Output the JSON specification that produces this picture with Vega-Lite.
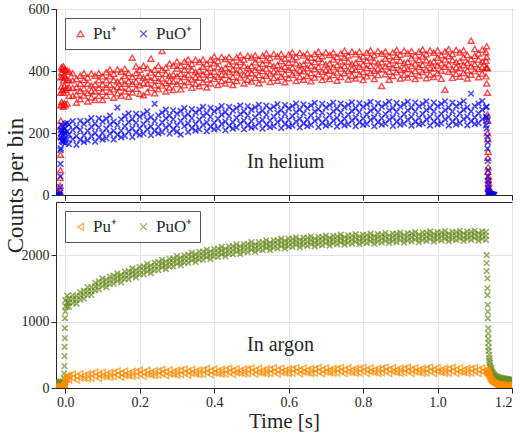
{"$schema":"https://vega.github.io/schema/vega-lite/v6.json","background":"white","padding":{"left":3,"top":1,"right":9,"bottom":0},"config":{"font":"Liberation Serif","view":{"stroke":"#262626","strokeWidth":1},"axis":{"labelFont":"Liberation Serif","labelFontSize":14,"labelColor":"#262626","titleFont":"Liberation Serif","titleFontSize":21,"titleFontWeight":"normal","titleColor":"#262626","domainColor":"#262626","tickColor":"#262626","gridColor":"#e4e4e4","tickSize":5,"labelPadding":2,"titlePadding":1},"legend":{"orient":"top-left","direction":"horizontal","offset":9,"padding":7,"strokeColor":"#555","fillColor":"white","labelFont":"Liberation Serif","labelFontSize":17,"labelColor":"#262626","symbolSize":45,"symbolStrokeWidth":1.3,"columnPadding":18,"title":null}},"datasets":{"d":[
{"t":-0.025,"a":0,"b":1,"e":0,"f":0,"h":10,"i":25,"j":45,"k":70,"l":95},
{"t":-0.022,"a":0,"b":2,"e":0,"f":1},
{"t":-0.02,"h":18,"i":5,"j":60,"k":85,"l":35},
{"t":-0.019,"a":1,"b":0,"e":0,"f":0},
{"t":-0.016,"a":0,"b":3,"e":1,"f":0},
{"t":-0.015,"h":22,"i":12,"j":75,"k":50,"l":95},
{"t":-0.014,"a":12,"b":30,"c":55,"e":8,"f":25},
{"t":-0.013,"a":80,"b":130,"c":190,"d":220,"e":60,"f":100,"g":145},
{"t":-0.012,"a":240,"b":290,"c":330,"d":380,"e":150,"f":185,"g":210},
{"t":-0.01,"a":300,"b":350,"c":395,"d":412,"e":175,"f":200,"g":225,"h":8,"i":28,"j":40,"k":65,"l":90},
{"t":-0.0075,"a":292,"b":338,"c":381,"d":408,"e":172,"f":208,"g":190},
{"t":-0.006,"h":15,"i":30,"j":55,"k":80,"l":100},
{"t":-0.005,"a":285,"b":330,"c":370,"d":415,"e":170,"f":195,"g":222},
{"t":-0.003,"h":25,"i":40,"j":90,"k":140,"l":220},
{"t":-0.0025,"a":296,"b":352,"c":386,"d":404,"e":178,"f":214,"g":202},
{"t":-0.002,"h":50,"i":80,"j":330,"k":480,"l":620},
{"t":-0.001,"h":90,"i":130,"j":750,"k":900,"l":1050},
{"t":0,"a":290,"b":340,"c":378,"d":405,"e":168,"f":198,"g":230,"h":130,"i":160,"j":1150,"k":1230,"l":1320},
{"t":0.005,"a":295,"b":345,"c":372,"d":402,"e":180,"f":205,"g":232,"h":140,"i":190,"j":1220,"k":1290,"l":1390},
{"t":0.01,"a":320,"b":347,"c":370,"d":398,"e":164,"f":195,"g":227,"h":120,"i":185,"j":1225,"k":1285,"l":1345},
{"t":0.02,"a":320,"b":345,"c":370,"d":393,"e":180,"f":210,"g":238,"h":150,"i":210,"j":1280,"k":1340,"l":1395},
{"t":0.03,"a":298,"b":324,"c":348,"d":374,"e":162,"f":190,"g":220,"h":120,"i":180,"j":1272,"k":1325,"l":1385},
{"t":0.04,"a":309,"b":336,"c":359,"d":385,"e":178,"f":210,"g":239,"h":150,"i":213,"j":1330,"k":1388,"l":1442},
{"t":0.05,"a":321,"b":344,"c":371,"d":393,"e":192,"f":229,"g":171,"h":185,"i":145,"j":1345,"k":1405,"l":1465},
{"t":0.06,"a":302,"b":329,"c":359,"d":379,"e":176,"f":207,"g":239,"h":139,"i":214,"j":1400,"k":1460,"l":1515},
{"t":0.07,"a":315,"b":336,"c":353,"d":392,"e":190,"f":220,"g":248,"h":148,"i":213,"j":1402,"k":1455,"l":1515},
{"t":0.08,"a":307,"b":334,"c":357,"d":385,"e":172,"f":200,"g":230,"h":177,"i":237,"j":1470,"k":1528,"l":1582},
{"t":0.09,"a":320,"b":345,"c":370,"d":393,"e":186,"f":218,"g":247,"h":146,"i":206,"j":1485,"k":1545,"l":1605},
{"t":0.1,"a":307,"b":333,"c":357,"d":383,"e":200,"f":237,"g":179,"h":175,"i":238,"j":1535,"k":1595,"l":1650},
{"t":0.11,"a":320,"b":347,"c":370,"d":396,"e":183,"f":214,"g":246,"h":208,"i":168,"j":1517,"k":1570,"l":1630},
{"t":0.12,"a":333,"b":356,"c":383,"d":405,"e":198,"f":228,"g":256,"h":160,"i":235,"j":1565,"k":1623,"l":1677},
{"t":0.13,"a":314,"b":341,"c":371,"d":391,"e":179,"f":207,"g":237,"h":168,"i":233,"j":1570,"k":1630,"l":1690},
{"t":0.14,"a":328,"b":349,"c":366,"d":405,"e":194,"f":226,"g":282,"h":195,"i":255,"j":1612,"k":1672,"l":1727},
{"t":0.15,"a":320,"b":347,"c":370,"d":398,"e":207,"f":244,"g":186,"h":163,"i":223,"j":1592,"k":1645,"l":1705},
{"t":0.16,"a":334,"b":359,"c":384,"d":407,"e":191,"f":222,"g":254,"h":190,"i":253,"j":1638,"k":1696,"l":1750},
{"t":0.17,"a":317,"b":343,"c":367,"d":393,"e":205,"f":235,"g":263,"h":223,"i":183,"j":1641,"k":1701,"l":1761},
{"t":0.18,"a":331,"b":358,"c":381,"d":443,"e":187,"f":215,"g":245,"h":175,"i":250,"j":1684,"k":1744,"l":1799},
{"t":0.19,"a":343,"b":366,"c":393,"d":415,"e":201,"f":233,"g":262,"h":183,"i":248,"j":1664,"k":1717,"l":1777},
{"t":0.2,"a":327,"b":354,"c":384,"d":404,"e":215,"f":252,"g":194,"h":210,"i":270,"j":1710,"k":1768,"l":1822},
{"t":0.21,"a":322,"b":361,"c":378,"d":417,"e":198,"f":229,"g":261,"h":177,"i":237,"j":1711,"k":1771,"l":1831},
{"t":0.22,"a":332,"b":359,"c":382,"d":410,"e":212,"f":242,"g":270,"h":203,"i":266,"j":1752,"k":1812,"l":1867},
{"t":0.23,"a":345,"b":370,"c":395,"d":440,"e":193,"f":221,"g":251,"h":235,"i":195,"j":1730,"k":1783,"l":1843},
{"t":0.24,"a":328,"b":354,"c":378,"d":404,"e":207,"f":239,"g":294,"h":186,"i":261,"j":1774,"k":1832,"l":1886},
{"t":0.25,"a":341,"b":368,"c":391,"d":417,"e":220,"f":257,"g":199,"h":193,"i":258,"j":1775,"k":1835,"l":1895},
{"t":0.26,"a":353,"b":376,"c":403,"d":465,"e":203,"f":234,"g":266,"h":219,"i":279,"j":1814,"k":1874,"l":1929},
{"t":0.27,"a":334,"b":361,"c":391,"d":411,"e":217,"f":247,"g":275,"h":186,"i":246,"j":1790,"k":1843,"l":1903},
{"t":0.28,"a":347,"b":368,"c":385,"d":424,"e":198,"f":226,"g":256,"h":212,"i":275,"j":1832,"k":1890,"l":1944},
{"t":0.29,"a":339,"b":366,"c":389,"d":417,"e":212,"f":244,"g":273,"h":244,"i":204,"j":1831,"k":1891,"l":1951},
{"t":0.3,"a":358,"b":383,"c":408,"d":431,"e":225,"f":262,"g":204,"h":195,"i":270,"j":1870,"k":1930,"l":1985},
{"t":0.31,"a":341,"b":367,"c":391,"d":417,"e":195,"f":239,"g":271,"h":201,"i":266,"j":1845,"k":1898,"l":1958},
{"t":0.32,"a":354,"b":381,"c":404,"d":430,"e":222,"f":252,"g":280,"h":227,"i":287,"j":1886,"k":1944,"l":1998},
{"t":0.33,"a":365,"b":388,"c":415,"d":437,"e":203,"f":231,"g":261,"h":193,"i":253,"j":1884,"k":1944,"l":2004},
{"t":0.34,"a":346,"b":373,"c":403,"d":423,"e":216,"f":248,"g":277,"h":219,"i":282,"j":1922,"k":1982,"l":2037},
{"t":0.35,"a":359,"b":380,"c":397,"d":436,"e":229,"f":266,"g":208,"h":250,"i":210,"j":1897,"k":1950,"l":2010},
{"t":0.36,"a":351,"b":378,"c":401,"d":429,"e":212,"f":243,"g":275,"h":201,"i":276,"j":1936,"k":1994,"l":2048},
{"t":0.37,"a":364,"b":389,"c":414,"d":437,"e":226,"f":256,"g":284,"h":207,"i":272,"j":1932,"k":1992,"l":2052},
{"t":0.38,"a":347,"b":373,"c":397,"d":423,"e":206,"f":234,"g":264,"h":233,"i":293,"j":1968,"k":2028,"l":2083},
{"t":0.39,"a":360,"b":387,"c":410,"d":436,"e":220,"f":252,"g":281,"h":199,"i":259,"j":1941,"k":1994,"l":2054},
{"t":0.4,"a":375,"b":398,"c":425,"d":447,"e":233,"f":270,"g":212,"h":225,"i":288,"j":1980,"k":2038,"l":2092},
{"t":0.41,"a":355,"b":382,"c":412,"d":432,"e":215,"f":246,"g":278,"h":256,"i":216,"j":1975,"k":2035,"l":2095},
{"t":0.42,"a":368,"b":389,"c":406,"d":445,"e":229,"f":259,"g":287,"h":206,"i":281,"j":2010,"k":2070,"l":2125},
{"t":0.43,"a":360,"b":387,"c":410,"d":438,"e":209,"f":237,"g":267,"h":212,"i":277,"j":1982,"k":2035,"l":2095},
{"t":0.44,"a":372,"b":397,"c":422,"d":445,"e":223,"f":255,"g":284,"h":238,"i":298,"j":2020,"k":2078,"l":2132},
{"t":0.45,"a":355,"b":381,"c":405,"d":431,"e":235,"f":272,"g":214,"h":203,"i":263,"j":2015,"k":2075,"l":2135},
{"t":0.46,"a":368,"b":395,"c":418,"d":444,"e":218,"f":249,"g":281,"h":229,"i":292,"j":2048,"k":2108,"l":2163},
{"t":0.47,"a":379,"b":402,"c":429,"d":451,"e":231,"f":261,"g":289,"h":260,"i":220,"j":2018,"k":2071,"l":2131},
{"t":0.48,"a":360,"b":387,"c":417,"d":437,"e":212,"f":240,"g":270,"h":210,"i":285,"j":2054,"k":2112,"l":2166},
{"t":0.49,"a":372,"b":393,"c":410,"d":449,"e":225,"f":257,"g":286,"h":216,"i":281,"j":2047,"k":2107,"l":2167},
{"t":0.5,"a":366,"b":393,"c":416,"d":444,"e":238,"f":275,"g":217,"h":242,"i":302,"j":2080,"k":2140,"l":2195},
{"t":0.51,"a":378,"b":403,"c":428,"d":451,"e":220,"f":251,"g":283,"h":207,"i":267,"j":2049,"k":2102,"l":2162},
{"t":0.52,"a":361,"b":387,"c":411,"d":437,"e":233,"f":263,"g":291,"h":233,"i":296,"j":2084,"k":2142,"l":2196},
{"t":0.53,"a":373,"b":400,"c":423,"d":449,"e":214,"f":242,"g":272,"h":263,"i":223,"j":2076,"k":2136,"l":2196},
{"t":0.54,"a":385,"b":408,"c":435,"d":457,"e":227,"f":259,"g":288,"h":214,"i":289,"j":2108,"k":2168,"l":2223},
{"t":0.55,"a":365,"b":392,"c":422,"d":442,"e":240,"f":277,"g":219,"h":219,"i":284,"j":2077,"k":2130,"l":2190},
{"t":0.56,"a":378,"b":399,"c":416,"d":455,"e":222,"f":253,"g":285,"h":245,"i":305,"j":2111,"k":2169,"l":2223},
{"t":0.57,"a":369,"b":396,"c":419,"d":447,"e":235,"f":265,"g":293,"h":210,"i":270,"j":2102,"k":2162,"l":2222},
{"t":0.58,"a":382,"b":407,"c":432,"d":455,"e":216,"f":244,"g":274,"h":236,"i":299,"j":2133,"k":2193,"l":2248},
{"t":0.59,"a":364,"b":390,"c":414,"d":440,"e":229,"f":261,"g":290,"h":266,"i":226,"j":2101,"k":2154,"l":2214},
{"t":0.6,"a":377,"b":404,"c":427,"d":453,"e":242,"f":279,"g":221,"h":217,"i":292,"j":2135,"k":2193,"l":2247},
{"t":0.61,"a":388,"b":411,"c":438,"d":460,"e":224,"f":255,"g":287,"h":222,"i":287,"j":2124,"k":2184,"l":2244},
{"t":0.62,"a":368,"b":395,"c":425,"d":445,"e":237,"f":267,"g":295,"h":247,"i":307,"j":2153,"k":2213,"l":2268},
{"t":0.63,"a":381,"b":402,"c":419,"d":458,"e":218,"f":246,"g":276,"h":213,"i":273,"j":2119,"k":2172,"l":2232},
{"t":0.64,"a":372,"b":399,"c":422,"d":450,"e":231,"f":263,"g":292,"h":238,"i":301,"j":2151,"k":2209,"l":2263},
{"t":0.65,"a":384,"b":409,"c":434,"d":457,"e":243,"f":280,"g":222,"h":268,"i":228,"j":2140,"k":2200,"l":2260},
{"t":0.66,"a":367,"b":393,"c":417,"d":443,"e":226,"f":257,"g":289,"h":219,"i":294,"j":2168,"k":2228,"l":2283},
{"t":0.67,"a":379,"b":406,"c":429,"d":455,"e":239,"f":269,"g":297,"h":224,"i":289,"j":2133,"k":2186,"l":2246},
{"t":0.68,"a":390,"b":413,"c":440,"d":462,"e":219,"f":247,"g":277,"h":249,"i":309,"j":2164,"k":2222,"l":2276},
{"t":0.69,"a":371,"b":398,"c":428,"d":448,"e":233,"f":265,"g":294,"h":215,"i":275,"j":2152,"k":2212,"l":2272},
{"t":0.7,"a":383,"b":404,"c":421,"d":460,"e":245,"f":282,"g":224,"h":240,"i":303,"j":2180,"k":2240,"l":2295},
{"t":0.71,"a":374,"b":401,"c":424,"d":452,"e":227,"f":258,"g":290,"h":270,"i":230,"j":2145,"k":2198,"l":2258},
{"t":0.72,"a":387,"b":412,"c":437,"d":460,"e":240,"f":270,"g":298,"h":220,"i":295,"j":2176,"k":2234,"l":2288},
{"t":0.73,"a":369,"b":395,"c":419,"d":445,"e":221,"f":249,"g":279,"h":226,"i":291,"j":2164,"k":2224,"l":2284},
{"t":0.74,"a":381,"b":408,"c":431,"d":457,"e":234,"f":266,"g":295,"h":251,"i":311,"j":2192,"k":2252,"l":2307},
{"t":0.75,"a":393,"b":416,"c":443,"d":465,"e":246,"f":283,"g":225,"h":216,"i":276,"j":2157,"k":2210,"l":2270},
{"t":0.76,"a":373,"b":400,"c":430,"d":450,"e":228,"f":259,"g":291,"h":241,"i":304,"j":2187,"k":2245,"l":2299},
{"t":0.77,"a":385,"b":406,"c":423,"d":462,"e":241,"f":271,"g":299,"h":271,"i":231,"j":2174,"k":2234,"l":2294},
{"t":0.78,"a":376,"b":403,"c":426,"d":454,"e":222,"f":250,"g":280,"h":222,"i":297,"j":2201,"k":2261,"l":2316},
{"t":0.79,"a":389,"b":414,"c":439,"d":462,"e":235,"f":267,"g":296,"h":227,"i":292,"j":2165,"k":2218,"l":2278},
{"t":0.8,"a":371,"b":397,"c":421,"d":447,"e":247,"f":284,"g":226,"h":252,"i":312,"j":2195,"k":2253,"l":2307},
{"t":0.81,"a":383,"b":410,"c":433,"d":459,"e":229,"f":260,"g":292,"h":217,"i":277,"j":2182,"k":2242,"l":2302},
{"t":0.82,"a":394,"b":417,"c":444,"d":466,"e":242,"f":272,"g":300,"h":242,"i":305,"j":2209,"k":2269,"l":2324},
{"t":0.83,"a":374,"b":401,"c":431,"d":451,"e":222,"f":250,"g":280,"h":272,"i":232,"j":2173,"k":2226,"l":2286},
{"t":0.84,"a":387,"b":408,"c":425,"d":464,"e":235,"f":267,"g":296,"h":222,"i":297,"j":2203,"k":2261,"l":2315},
{"t":0.85,"a":352,"b":405,"c":428,"d":456,"e":248,"f":285,"g":227,"h":228,"i":293,"j":2190,"k":2250,"l":2310},
{"t":0.86,"a":390,"b":415,"c":440,"d":463,"e":230,"f":261,"g":293,"h":253,"i":313,"j":2217,"k":2277,"l":2332},
{"t":0.87,"a":372,"b":398,"c":422,"d":448,"e":243,"f":273,"g":301,"h":218,"i":278,"j":2181,"k":2234,"l":2294},
{"t":0.88,"a":384,"b":411,"c":434,"d":460,"e":223,"f":251,"g":281,"h":243,"i":306,"j":2211,"k":2269,"l":2323},
{"t":0.89,"a":396,"b":419,"c":446,"d":468,"e":236,"f":268,"g":297,"h":273,"i":233,"j":2198,"k":2258,"l":2318},
{"t":0.9,"a":376,"b":403,"c":433,"d":453,"e":248,"f":285,"g":227,"h":223,"i":298,"j":2225,"k":2285,"l":2340},
{"t":0.91,"a":388,"b":409,"c":426,"d":465,"e":230,"f":261,"g":293,"h":228,"i":293,"j":2189,"k":2242,"l":2302},
{"t":0.92,"a":379,"b":406,"c":429,"d":457,"e":243,"f":273,"g":301,"h":253,"i":313,"j":2219,"k":2277,"l":2331},
{"t":0.93,"a":391,"b":416,"c":441,"d":464,"e":224,"f":252,"g":282,"h":218,"i":278,"j":2206,"k":2266,"l":2326},
{"t":0.94,"a":374,"b":400,"c":424,"d":450,"e":237,"f":269,"g":298,"h":243,"i":306,"j":2233,"k":2293,"l":2348},
{"t":0.95,"a":386,"b":413,"c":436,"d":462,"e":249,"f":286,"g":228,"h":273,"i":233,"j":2197,"k":2250,"l":2310},
{"t":0.96,"a":397,"b":420,"c":447,"d":469,"e":231,"f":262,"g":294,"h":223,"i":298,"j":2227,"k":2285,"l":2339},
{"t":0.97,"a":377,"b":404,"c":434,"d":454,"e":244,"f":274,"g":302,"h":228,"i":293,"j":2214,"k":2274,"l":2334},
{"t":0.98,"a":389,"b":410,"c":427,"d":466,"e":224,"f":252,"g":282,"h":253,"i":313,"j":2241,"k":2301,"l":2356},
{"t":0.99,"a":381,"b":408,"c":431,"d":459,"e":237,"f":269,"g":298,"h":218,"i":278,"j":2205,"k":2258,"l":2318},
{"t":1.0,"a":393,"b":418,"c":443,"d":466,"e":249,"f":286,"g":228,"h":243,"i":306,"j":2235,"k":2293,"l":2347},
{"t":1.01,"a":375,"b":401,"c":425,"d":451,"e":231,"f":262,"g":294,"h":273,"i":233,"j":2221,"k":2281,"l":2341},
{"t":1.02,"a":340,"b":414,"c":437,"d":463,"e":244,"f":274,"g":302,"h":223,"i":298,"j":2247,"k":2307,"l":2362},
{"t":1.03,"a":398,"b":421,"c":448,"d":470,"e":224,"f":252,"g":282,"h":227,"i":292,"j":2210,"k":2263,"l":2323},
{"t":1.04,"a":378,"b":405,"c":435,"d":455,"e":237,"f":269,"g":298,"h":252,"i":312,"j":2239,"k":2297,"l":2351},
{"t":1.05,"a":391,"b":412,"c":429,"d":468,"e":249,"f":286,"g":228,"h":217,"i":277,"j":2225,"k":2285,"l":2345},
{"t":1.06,"a":382,"b":409,"c":432,"d":460,"e":232,"f":263,"g":295,"h":242,"i":305,"j":2251,"k":2311,"l":2366},
{"t":1.07,"a":394,"b":419,"c":444,"d":467,"e":245,"f":275,"g":303,"h":272,"i":232,"j":2214,"k":2267,"l":2327},
{"t":1.08,"a":376,"b":402,"c":426,"d":452,"e":225,"f":253,"g":283,"h":221,"i":296,"j":2243,"k":2301,"l":2355},
{"t":1.09,"a":388,"b":415,"c":438,"d":498,"e":238,"f":270,"g":327,"h":226,"i":291,"j":2229,"k":2289,"l":2349},
{"t":1.1,"a":399,"b":422,"c":449,"d":471,"e":250,"f":287,"g":229,"h":251,"i":311,"j":2255,"k":2315,"l":2370},
{"t":1.11,"a":380,"b":407,"c":437,"d":457,"e":232,"f":263,"g":295,"h":216,"i":276,"j":2217,"k":2270,"l":2330},
{"t":1.12,"a":392,"b":413,"c":430,"d":469,"e":245,"f":275,"g":303,"h":241,"i":304,"j":2245,"k":2303,"l":2357},
{"t":1.13,"a":383,"b":410,"c":433,"d":461,"e":225,"f":253,"g":283,"h":271,"i":231,"j":2230,"k":2290,"l":2350},
{"t":1.132,"a":445,"b":410,"c":360,"d":480,"e":285,"f":250,"g":215,"h":235,"i":280,"j":2000,"k":1880,"l":1760},
{"t":1.134,"a":330,"b":260,"c":200,"d":410,"e":240,"f":190,"g":150,"h":225,"i":260,"j":1650,"k":1500,"l":1400},
{"t":1.135,"a":180,"b":120,"c":75,"d":240,"e":170,"f":110,"g":60,"h":210,"i":235,"j":1250,"k":1150,"l":1050},
{"t":1.136,"a":90,"b":50,"c":25,"d":140,"e":80,"f":45,"g":20,"h":195,"i":220,"j":900,"k":820,"l":740},
{"t":1.137,"a":40,"b":20,"c":8,"d":60,"e":35,"f":15,"g":5,"h":180,"i":205,"j":680,"k":610,"l":560},
{"t":1.139,"a":12,"b":5,"c":2,"d":20,"e":10,"f":4,"g":1,"h":160,"i":180,"j":500,"k":450,"l":410},
{"t":1.141,"a":4,"b":1,"c":0,"d":8,"e":5,"f":2,"g":0,"h":130,"i":150,"j":380,"k":340,"l":310},
{"t":1.144,"a":2,"b":0,"c":0,"d":3,"e":2,"f":0,"g":0,"h":100,"i":120,"j":300,"k":270,"l":245},
{"t":1.147,"a":1,"b":0,"e":1,"f":0,"h":80,"i":95,"j":250,"k":225,"l":205},
{"t":1.15,"a":0,"b":1,"e":0,"f":1,"h":65,"i":80,"j":215,"k":195,"l":180},
{"t":1.153,"a":0,"e":0,"h":55,"i":70,"j":195,"k":178,"l":165},
{"t":1.156,"h":48,"i":62,"j":180,"k":165,"l":152},
{"t":1.16,"h":42,"i":58,"j":170,"k":156,"l":145},
{"t":1.165,"h":38,"i":52,"j":162,"k":148,"l":138},
{"t":1.17,"h":35,"i":50,"j":155,"k":142,"l":132},
{"t":1.175,"h":32,"i":48,"j":148,"k":136,"l":127},
{"t":1.18,"h":30,"i":46,"j":142,"k":131,"l":123},
{"t":1.185,"h":29,"i":44,"j":138,"k":127,"l":120},
{"t":1.19,"h":28,"i":42,"j":134,"k":124,"l":117},
{"t":1.195,"h":27,"i":41,"j":131,"k":121,"l":114},
{"t":1.2,"h":26,"i":40,"j":128,"k":118,"l":112}
]},"spacing":7,"bounds":"flush","resolve":{"scale":{"color":"independent","shape":"independent","y":"independent"},"legend":{"color":"independent","shape":"independent"}},"vconcat":[
{"width":456,"height":186,"layer":[
{"data":{"name":"d"},"transform":[{"fold":["a","b","c","d"],"as":["k","v"]},{"filter":"isValid(datum.v)"}],"mark":{"type":"point","filled":false,"size":36,"strokeWidth":1.4,"clip":true},"encoding":{"x":{"field":"t","type":"quantitative","scale":{"domain":[-0.025,1.2],"nice":false,"zero":false},"axis":{"values":[0,0.2,0.4,0.6,0.8,1,1.2],"labels":false,"title":null}},"y":{"field":"v","type":"quantitative","scale":{"domain":[0,600],"nice":false},"axis":{"values":[0,100,200,300,400,500,600],"format":"d","labelFont":"Liberation Serif","titleFont":"Liberation Serif","title":"Counts per bin","titleFontSize":23,"titleY":176}},"color":{"datum":"Pu⁺","type":"nominal","scale":{"domain":["Pu⁺","PuO⁺"],"range":["#ff0000","#0000ff"]},"legend":{"title":null,"labelFont":"Liberation Serif"}},"shape":{"datum":"Pu⁺","type":"nominal","scale":{"domain":["Pu⁺","PuO⁺"],"range":["triangle-up","M-1,-1L1,1M1,-1L-1,1"]},"legend":{"title":null,"labelFont":"Liberation Serif"}}}},
{"data":{"name":"d"},"transform":[{"fold":["e","f","g"],"as":["k","v"]},{"filter":"isValid(datum.v)"}],"mark":{"type":"point","filled":false,"size":32,"strokeWidth":1.6,"clip":true},"encoding":{"x":{"field":"t","type":"quantitative"},"y":{"field":"v","type":"quantitative"},"color":{"datum":"PuO⁺","type":"nominal"},"shape":{"datum":"PuO⁺","type":"nominal"}}},
{"data":{"values":[{"t":0.592,"v":106,"s":"In helium"}]},"mark":{"type":"text","font":"Liberation Serif","fontSize":20,"color":"#262626"},"encoding":{"x":{"field":"t","type":"quantitative"},"y":{"field":"v","type":"quantitative"},"text":{"field":"s"}}}
]},
{"width":456,"height":186,"layer":[
{"data":{"name":"d"},"transform":[{"fold":["j","k","l"],"as":["k2","v"]},{"filter":"isValid(datum.v)"}],"mark":{"type":"point","filled":false,"size":32,"strokeWidth":1.6,"clip":true},"encoding":{"x":{"field":"t","type":"quantitative","scale":{"domain":[-0.025,1.2],"nice":false,"zero":false},"axis":{"values":[0,0.2,0.4,0.6,0.8,1,1.2],"format":".1f","labelFont":"Liberation Serif","titleFont":"Liberation Serif","title":"Time [s]"}},"y":{"field":"v","type":"quantitative","scale":{"domain":[0,2800],"nice":false},"axis":{"values":[0,500,1000,1500,2000,2500],"format":"d","labelFont":"Liberation Serif","title":null}},"color":{"datum":"PuO⁺","type":"nominal","scale":{"domain":["Pu⁺","PuO⁺"],"range":["#ff8c00","#6b8e23"]},"legend":{"title":null,"labelFont":"Liberation Serif"}},"shape":{"datum":"PuO⁺","type":"nominal","scale":{"domain":["Pu⁺","PuO⁺"],"range":["triangle-left","M-1,-1L1,1M1,-1L-1,1"]},"legend":{"title":null,"labelFont":"Liberation Serif"}}}},
{"data":{"name":"d"},"transform":[{"fold":["h","i"],"as":["k2","v"]},{"filter":"isValid(datum.v)"}],"mark":{"type":"point","filled":false,"size":36,"strokeWidth":1.4,"clip":true},"encoding":{"x":{"field":"t","type":"quantitative"},"y":{"field":"v","type":"quantitative"},"color":{"datum":"Pu⁺","type":"nominal"},"shape":{"datum":"Pu⁺","type":"nominal"}}},
{"data":{"values":[{"t":0.578,"v":640,"s":"In argon"}]},"mark":{"type":"text","font":"Liberation Serif","fontSize":20,"color":"#262626"},"encoding":{"x":{"field":"t","type":"quantitative"},"y":{"field":"v","type":"quantitative"},"text":{"field":"s"}}}
]}
]}
